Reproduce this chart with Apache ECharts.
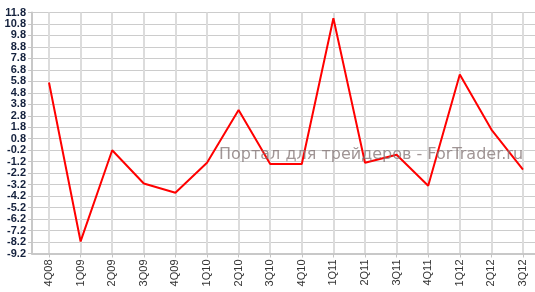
<!DOCTYPE html>
<html><head><meta charset="utf-8">
<script src="https://cdn.jsdelivr.net/npm/echarts@6/dist/echarts.min.js"></script>
<style>html,body{margin:0;padding:0;background:#fff}#c{width:535px;height:292px}</style>
</head><body><div id="c"></div>
<script>
const categories = ['4Q08','1Q09','2Q09','3Q09','4Q09','1Q10','2Q10','3Q10','4Q10','1Q11','2Q11','3Q11','4Q11','1Q12','2Q12','3Q12'];
const values = [5.7, -8.15, -0.2, -3.1, -3.9, -1.3, 3.3, -1.4, -1.4, 11.3, -1.3, -0.6, -3.3, 6.4, 1.6, -1.9];
const yMin = -9.2, yMax = 11.8, yStep = 1;
const watermark = 'Портал для трейдеров - ForTrader.ru';

const chart = echarts.init(document.getElementById('c'), null, {renderer: 'canvas'});
const gridTop = 12.5, gridBottom = 38.5;
chart.setOption({
  animation: false,
  backgroundColor: '#fff',
  grid: [
    {left: 32, right: 0, top: gridTop, bottom: gridBottom},
    {left: 49, right: 12, top: gridTop, bottom: gridBottom}
  ],
  xAxis: [
    {gridIndex: 0, type: 'value', min: 0, max: 1, position: 'bottom',
     axisLine: {show: true, onZero: false, lineStyle: {color: '#c8c8c8', width: 2}},
     axisTick: {show: false}, axisLabel: {show: false}, splitLine: {show: false}},
    {gridIndex: 1, type: 'category', data: categories, boundaryGap: false, position: 'bottom',
     axisLine: {show: false, onZero: false},
     axisTick: {show: true, length: 4, lineStyle: {color: '#c4c4c4', width: 1}},
     axisLabel: {rotate: 90, margin: 6, fontSize: 11, fontFamily: 'Liberation Sans', color: '#333', interval: 0},
     splitLine: {show: true, lineStyle: {color: '#dcdcdc', width: 2}}}
  ],
  yAxis: [
    {gridIndex: 0, type: 'value', min: yMin, max: yMax, interval: yStep,
     axisLine: {show: true, onZero: false, lineStyle: {color: '#c8c8c8', width: 2}},
     axisTick: {show: true, length: 4, lineStyle: {color: '#c4c4c4'}},
     axisLabel: {margin: 6, fontSize: 11, fontWeight: 'bold', fontFamily: 'Liberation Sans', color: '#14213d',
       formatter: v => v.toFixed(1)},
     splitLine: {show: true, lineStyle: {color: '#cccccc', width: 1}}},
    {gridIndex: 1, type: 'value', min: yMin, max: yMax, interval: yStep, show: false,
     axisLine: {onZero: false}, splitLine: {show: false}}
  ],
  series: [{
    type: 'line', xAxisIndex: 1, yAxisIndex: 1, data: values,
    showSymbol: false, symbol: 'none',
    lineStyle: {color: '#ff0000', width: 2}, z: 3
  }],
  graphic: [{
    type: 'text', left: 219, top: 147, z: 10,
    style: {text: watermark, fontSize: 16, fontFamily: 'DejaVu Sans', fill: 'rgba(130,115,115,0.75)'}
  }]
});
</script></body></html>
